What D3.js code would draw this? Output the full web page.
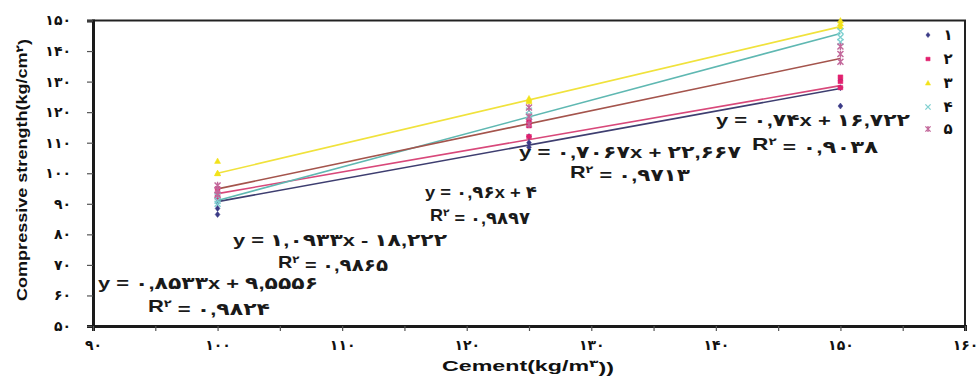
<!DOCTYPE html>
<html>
<head>
<meta charset="utf-8">
<script src="https://cdn.jsdelivr.net/npm/d3@7/dist/d3.min.js"></script>
<style>
  html, body { margin: 0; padding: 0; background: #fff; }
  svg { display: block; }
  text { font-family: Arial, "Liberation Sans", "DejaVu Sans", sans-serif; }
</style>
</head>
<body>
<svg id="chart" width="980" height="376"></svg>
<script>
// ---------- data ----------
const xCement = [100, 125, 150];
const seriesNames = ["1", "2", "3", "4", "5"];
// replicate strength values at each cement content
const series1 = [[90.5, 88.5, 86.5], [110, 108.5, 112], [130.5, 128, 122]];
const series2 = [[95, 93, 92], [112, 115.5, 117], [128, 130, 131.5]];
const series3 = [[104, 100, 100], [124.5, 123.5, 124], [150, 149, 148]];
const series4 = [[91, 90, 92.5], [120.5, 118.5, 119], [146.5, 143, 144.5]];
const series5 = [[96, 94.5, 93], [121.5, 118.5, 116], [141.5, 139, 136.5]];
// linear trendlines
const slopes = [0.74, 0.7067, 0.96, 1.0933, 0.8533];
const intercepts = [16.722, 22.667, 4, -18.222, 9.5556];
const eqLabels = [
  "y = ۰,۷۴x + ۱۶,۷۲۲",
  "y = ۰,۷۰۶۷x + ۲۲,۶۶۷",
  "y = ۰,۹۶x + ۴",
  "y = ۱,۰۹۳۳x - ۱۸,۲۲۲",
  "y = ۰,۸۵۳۳x + ۹,۵۵۵۶"
];
const r2Labels = ["۰,۹۰۳۸", "۰,۹۷۱۳", "۰,۹۸۹۷", "۰,۹۸۶۵", "۰,۹۸۲۴"];
const xTicks = [90, 100, 110, 120, 130, 140, 150, 160];
const yTicks = [50, 60, 70, 80, 90, 100, 110, 120, 130, 140, 150];

// ---------- styling ----------
const markerColors = ["#3a3a86", "#e2206e", "#f2e21a", "#7fd0d0", "#c2679a"];
const lineColors = ["#3e3e70", "#d8487a", "#f0e23c", "#5fb8b2", "#a4544c"];
const markerTypes = ["diamond", "square", "triangle", "x", "star"];
// label positions [x center, y center, width] for equation / R2
const eqPos = [[813, 120, 194], [630, 152, 222], [481, 192, 112], [340, 240, 214], [208, 283, 220]];
const r2Pos = [[815, 144, 126], [630, 172, 120], [480, 215, 100], [333, 262, 110], [209, 306, 122]];

const allSeries = [series1, series2, series3, series4, series5];
const toFa = n => String(n).replace(/\d/g, d => "۰۱۲۳۴۵۶۷۸۹"[+d]);

const svg = d3.select("#chart");
const x = d3.scaleLinear().domain([90, 160]).range([93, 965]);
const y = d3.scaleLinear().domain([50, 150]).range([326, 20.5]);

// frame (top & right)
svg.append("rect").attr("x", x(90)).attr("y", y(150))
  .attr("width", x(160) - x(90)).attr("height", y(50) - y(150))
  .attr("fill", "none").attr("stroke", "#222").attr("stroke-width", 2);

// axes
const yAxis = d3.axisLeft(y).tickValues(yTicks).tickSize(6).tickFormat(d => toFa(d));
const gy = svg.append("g").attr("transform", `translate(${x(90)},0)`).call(yAxis);
gy.select(".domain").attr("stroke", "#1a1a1a").attr("stroke-width", 3);
gy.selectAll(".tick line").attr("stroke", "#555").attr("stroke-width", 1.2);
gy.selectAll(".tick text").attr("x", -22).attr("font-size", 14).attr("font-weight", "bold").attr("fill", "#111");

const xMinor = d3.range(90, 161, 5);
const xAxis = d3.axisBottom(x).tickValues(xMinor).tickSize(5)
  .tickFormat(d => xTicks.includes(d) ? toFa(d) : "");
const gx = svg.append("g").attr("transform", `translate(0,${y(50)})`).call(xAxis);
gx.select(".domain").attr("stroke", "#1a1a1a").attr("stroke-width", 3);
gx.selectAll(".tick line").attr("stroke", "#555").attr("stroke-width", 1.2);
gx.selectAll(".tick text").attr("y", 14).attr("font-size", 14).attr("font-weight", "bold").attr("fill", "#111");

// trendlines
allSeries.forEach((s, i) => {
  svg.append("line")
    .attr("x1", x(xCement[0])).attr("y1", y(slopes[i] * xCement[0] + intercepts[i]))
    .attr("x2", x(xCement[2])).attr("y2", y(slopes[i] * xCement[2] + intercepts[i]))
    .attr("stroke", lineColors[i]).attr("stroke-width", 1.6);
});

// markers
function markerPath(type, r) {
  if (type === "diamond") return `M0,${-r}L${r * 0.8},0L0,${r}L${-r * 0.8},0Z`;
  if (type === "square") return `M${-r * 0.8},${-r * 0.7}h${r * 1.6}v${r * 1.4}h${-r * 1.6}Z`;
  if (type === "triangle") return `M0,${-r}L${r},${r * 0.8}L${-r},${r * 0.8}Z`;
  if (type === "x") return `M${-r},${-r}L${r},${r}M${-r},${r}L${r},${-r}`;
  return `M${-r},${-r}L${r},${r}M${-r},${r}L${r},${-r}M0,${-r * 1.2}L0,${r * 1.2}`;
}
allSeries.forEach((s, i) => {
  const pts = [];
  s.forEach((vals, j) => vals.forEach(v => pts.push([xCement[j], v])));
  const filled = ["diamond", "square", "triangle"].includes(markerTypes[i]);
  svg.append("g").selectAll("path").data(pts).join("path")
    .attr("transform", d => `translate(${x(d[0])},${y(d[1])})`)
    .attr("d", markerPath(markerTypes[i], 3))
    .attr("fill", filled ? markerColors[i] : "none")
    .attr("stroke", markerColors[i]).attr("stroke-width", filled ? 0.5 : 1.4);
});

// equation labels
const lab = svg.append("g").attr("font-size", 17).attr("font-weight", "bold").attr("fill", "#1a1a1a");
eqLabels.forEach((t, i) => {
  lab.append("text").attr("x", eqPos[i][0]).attr("y", eqPos[i][1]).attr("dy", "0.35em")
    .attr("text-anchor", "middle").attr("textLength", eqPos[i][2])
    .attr("lengthAdjust", "spacingAndGlyphs").text(t);
  const r = lab.append("text").attr("x", r2Pos[i][0]).attr("y", r2Pos[i][1]).attr("dy", "0.35em")
    .attr("text-anchor", "middle").attr("textLength", r2Pos[i][2])
    .attr("lengthAdjust", "spacingAndGlyphs");
  r.append("tspan").text("R");
  r.append("tspan").attr("dy", "-0.45em").attr("font-size", 10).text("۲");
  r.append("tspan").attr("dy", "0.45em").text(" = " + r2Labels[i]);
});

// legend
const legY = [35, 59, 83, 107, 129];
seriesNames.forEach((n, i) => {
  const filled = ["diamond", "square", "triangle"].includes(markerTypes[i]);
  svg.append("path").attr("transform", `translate(928,${legY[i]})`)
    .attr("d", markerPath(markerTypes[i], 2.6))
    .attr("fill", filled ? markerColors[i] : "none")
    .attr("stroke", markerColors[i]).attr("stroke-width", filled ? 0.5 : 1.3);
  svg.append("text").attr("x", 948).attr("y", legY[i]).attr("dy", "0.35em")
    .attr("text-anchor", "middle").attr("font-size", 15).attr("font-weight", "bold")
    .attr("fill", "#111").text(toFa(n));
});

// axis titles
const xt = svg.append("text").attr("x", 528).attr("y", 371).attr("text-anchor", "middle")
  .attr("font-size", 15).attr("font-weight", "bold").attr("fill", "#111")
  .attr("textLength", 172).attr("lengthAdjust", "spacingAndGlyphs");
xt.append("tspan").text("Cement(kg/m");
xt.append("tspan").attr("dy", "-0.4em").attr("font-size", 10).text("۳");
xt.append("tspan").attr("dy", "0.4em").text("))");

const yt = svg.append("text").attr("transform", "translate(27,170) rotate(-90)")
  .attr("text-anchor", "middle").attr("font-size", 15).attr("font-weight", "bold")
  .attr("fill", "#111").attr("textLength", 262).attr("lengthAdjust", "spacingAndGlyphs");
yt.append("tspan").text("Compressive strength(kg/cm");
yt.append("tspan").attr("dy", "-0.4em").attr("font-size", 10).text("۲");
yt.append("tspan").attr("dy", "0.4em").text(")");
</script>
</body>
</html>
